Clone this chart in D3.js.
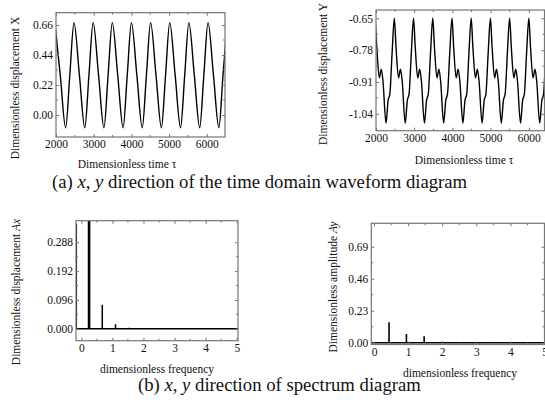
<!DOCTYPE html>
<html lang="en">
<head>
<meta charset="UTF-8">
<title>Time domain waveform and spectrum</title>
<script src="https://d3js.org/d3.v7.min.js"></script>
<style>
  body { margin: 0; background: #fff; }
  text { font-family: "Liberation Serif", "Times New Roman", serif; fill: #111; }
</style>
</head>
<body>
<div id="chart"></div>
<script>
// --- data ---
// (a) x direction waveform: tau, displacement X
const xTau  = [1969, 2113, 2256, 2366, 2477, 2621, 2764, 2874, 2985, 3129, 3272, 3382,
               3493, 3637, 3780, 3890, 4001, 4145, 4288, 4398, 4509, 4653, 4796, 4906,
               5017, 5161, 5304, 5414, 5525, 5669, 5812, 5922, 6033, 6177, 6320, 6430, 6541];
const xDisp = [0.677, 0.292, -0.093, 0.292, 0.677, 0.292, -0.093, 0.292, 0.677, 0.292, -0.093, 0.292,
               0.677, 0.292, -0.093, 0.292, 0.677, 0.292, -0.093, 0.292, 0.677, 0.292, -0.093, 0.292,
               0.677, 0.292, -0.093, 0.292, 0.677, 0.292, -0.093, 0.292, 0.677, 0.292, -0.093, 0.292, 0.677];

// (a) y direction waveform: tau, displacement Y
const yTau  = [1977, 2022, 2087, 2137, 2182, 2262, 2317, 2362, 2422,
               2480, 2525, 2590, 2640, 2685, 2765, 2820, 2865, 2925,
               2983, 3028, 3093, 3143, 3188, 3268, 3323, 3368, 3428,
               3486, 3531, 3596, 3646, 3691, 3771, 3826, 3871, 3931,
               3989, 4034, 4099, 4149, 4194, 4274, 4329, 4374, 4434,
               4492, 4537, 4602, 4652, 4697, 4777, 4832, 4877, 4937,
               4995, 5040, 5105, 5155, 5200, 5280, 5335, 5380, 5440,
               5498, 5543, 5608, 5658, 5703, 5783, 5838, 5883, 5943,
               6001, 6046, 6111, 6161, 6206, 6286, 6341, 6386, 6446, 6504];
const yDisp = [-0.650, -0.770, -0.893, -0.858, -0.905, -1.078, -0.985, -0.960, -0.790,
               -0.650, -0.770, -0.893, -0.858, -0.905, -1.078, -0.985, -0.960, -0.790,
               -0.650, -0.770, -0.893, -0.858, -0.905, -1.078, -0.985, -0.960, -0.790,
               -0.650, -0.770, -0.893, -0.858, -0.905, -1.078, -0.985, -0.960, -0.790,
               -0.650, -0.770, -0.893, -0.858, -0.905, -1.078, -0.985, -0.960, -0.790,
               -0.650, -0.770, -0.893, -0.858, -0.905, -1.078, -0.985, -0.960, -0.790,
               -0.650, -0.770, -0.893, -0.858, -0.905, -1.078, -0.985, -0.960, -0.790,
               -0.650, -0.770, -0.893, -0.858, -0.905, -1.078, -0.985, -0.960, -0.790,
               -0.650, -0.770, -0.893, -0.858, -0.905, -1.078, -0.985, -0.960, -0.790, -0.650];

// (b) spectra: frequency, amplitude
const axFreq = [-0.16, 0.25, 0.675, 1.10, 1.53];
const axAmp  = [0.350, 0.420, 0.080, 0.015, 0.003];
const ayFreq = [0.44, 0.95, 1.47, 2.00, 2.52];
const ayAmp  = [0.147, 0.063, 0.046, 0.006, 0.003];

// tick values
const tauTicks = [2000, 3000, 4000, 5000, 6000];
const xTicks   = [0.00, 0.22, 0.44, 0.66];
const yTicks   = [-1.04, -0.91, -0.78, -0.65];
const fTicks   = [0, 1, 2, 3, 4, 5];
const axTicks  = [0.000, 0.096, 0.192, 0.288];
const ayTicks  = [0.00, 0.23, 0.46, 0.69];

const svg = d3.select("#chart").append("svg")
  .attr("width", 545).attr("height", 406);

const frameColor = "#767676";
let clipId = 0;

// draws one framed panel and returns its scales
function panel(p) {
  const x = d3.scaleLinear().domain(p.xDomain).range([p.x0, p.x1]);
  const y = d3.scaleLinear().domain(p.yDomain).range([p.y1, p.y0]);
  const g = svg.append("g");

  const id = "clip" + (clipId++);
  svg.append("clipPath").attr("id", id).append("rect")
    .attr("x", p.x0).attr("y", p.y0).attr("width", p.x1 - p.x0).attr("height", p.y1 - p.y0);
  const plot = g.append("g").attr("clip-path", "url(#" + id + ")");

  // axes with inward ticks
  const bottom = g.append("g").attr("transform", "translate(0," + p.y1 + ")")
    .call(d3.axisBottom(x).tickValues(p.xTicks).tickSize(-3).tickPadding(3).tickFormat(p.xFormat));
  const left = g.append("g").attr("transform", "translate(" + p.x0 + ",0)")
    .call(d3.axisLeft(y).tickValues(p.yTicks).tickSize(-3).tickPadding(3).tickFormat(p.yFormat));
  const top = g.append("g").attr("transform", "translate(0," + p.y0 + ")")
    .call(d3.axisTop(x).tickValues(p.xTicks).tickSize(-3).tickFormat(""));
  const right = g.append("g").attr("transform", "translate(" + p.x1 + ",0)")
    .call(d3.axisRight(y).tickValues(p.yTicks).tickSize(-3).tickFormat(""));

  [bottom, left, top, right].forEach(a => {
    a.select(".domain").remove();
    a.selectAll("line").attr("stroke", frameColor);
    a.selectAll("text").style("font-size", "11.5px").attr("fill", "#111")
      .style("font-family", '"Liberation Serif", serif');
  });

  // minor ticks halfway between majors
  const mid = (t) => d3.pairs(t).map(d => (d[0] + d[1]) / 2);
  mid(p.xTicks).forEach(v => {
    g.append("line").attr("x1", x(v)).attr("x2", x(v)).attr("y1", p.y1).attr("y2", p.y1 - 2).attr("stroke", frameColor);
    g.append("line").attr("x1", x(v)).attr("x2", x(v)).attr("y1", p.y0).attr("y2", p.y0 + 2).attr("stroke", frameColor);
  });
  mid(p.yTicks).forEach(v => {
    g.append("line").attr("y1", y(v)).attr("y2", y(v)).attr("x1", p.x0).attr("x2", p.x0 + 2).attr("stroke", frameColor);
    g.append("line").attr("y1", y(v)).attr("y2", y(v)).attr("x1", p.x1).attr("x2", p.x1 - 2).attr("stroke", frameColor);
  });

  g.append("rect")
    .attr("x", p.x0).attr("y", p.y0).attr("width", p.x1 - p.x0).attr("height", p.y1 - p.y0)
    .attr("fill", "none").attr("stroke", frameColor).attr("stroke-width", 1.2);

  // axis titles
  g.append("text")
    .attr("transform", "translate(" + p.yLabelX + "," + p.yLabelY + ") rotate(-90)")
    .attr("text-anchor", "middle").style("font-size", "11.5px")
    .call(t => p.yLabel(t));
  g.append("text")
    .attr("x", p.xLabelX).attr("y", p.xLabelY)
    .attr("text-anchor", "middle").style("font-size", "11.5px")
    .text(p.xLabel);

  return { x, y, plot };
}

const plain = s => t => t.text(s);
const withItalic = (a, b) => t => { t.append("tspan").text(a); t.append("tspan").style("font-style", "italic").text(b); };

const fmt2 = d => d.toFixed(2);

// (a) left: X waveform
const pA = panel({
  x0: 56, x1: 225, y0: 12.7, y1: 137,
  xDomain: [2000, 6483], yDomain: [-0.161, 0.750],
  xTicks: tauTicks, yTicks: xTicks, xFormat: d3.format("d"), yFormat: fmt2,
  yLabel: plain("Dimensionless displacement X"), yLabelX: 19, yLabelY: 88,
  xLabel: "Dimensionless time \u03c4", xLabelX: 127, xLabelY: 168
});
pA.plot.append("path")
  .datum(d3.zip(xTau, xDisp))
  .attr("fill", "none").attr("stroke", "#000").attr("stroke-width", 1.4)
  .attr("d", d3.line().x(d => pA.x(d[0])).y(d => pA.y(d[1])).curve(d3.curveMonotoneX));

// (a) right: Y waveform
const pB = panel({
  x0: 376, x1: 544.5, y0: 10, y1: 130.7,
  xDomain: [2000, 6411], yDomain: [-1.109, -0.616],
  xTicks: tauTicks, yTicks: yTicks, xFormat: d3.format("d"), yFormat: fmt2,
  yLabel: plain("Dimensionless displacement Y"), yLabelX: 327, yLabelY: 74,
  xLabel: "Dimensionless time \u03c4", xLabelX: 464, xLabelY: 164
});
pB.plot.append("path")
  .datum(d3.zip(yTau, yDisp))
  .attr("fill", "none").attr("stroke", "#000").attr("stroke-width", 1.4)
  .attr("d", d3.line().x(d => pB.x(d[0])).y(d => pB.y(d[1])).curve(d3.curveMonotoneX));

// (b) left: Ax spectrum
const pC = panel({
  x0: 76, x1: 238, y0: 220.7, y1: 340.7,
  xDomain: [-0.17, 5.04], yDomain: [-0.04, 0.36],
  xTicks: fTicks, yTicks: axTicks, xFormat: d3.format("d"), yFormat: d => d.toFixed(3),
  yLabel: withItalic("Dimensionless displacement ", "Ax"), yLabelX: 20, yLabelY: 292,
  xLabel: "dimensionless frequency", xLabelX: 157, xLabelY: 373
});
pC.plot.append("line")
  .attr("x1", pC.x(-0.17)).attr("x2", pC.x(5.04)).attr("y1", pC.y(0)).attr("y2", pC.y(0))
  .attr("stroke", "#000").attr("stroke-width", 1.5);
pC.plot.selectAll(".bar").data(d3.zip(axFreq, axAmp)).enter().append("line")
  .attr("x1", d => pC.x(d[0])).attr("x2", d => pC.x(d[0]))
  .attr("y1", pC.y(0)).attr("y2", d => pC.y(d[1]))
  .attr("stroke", "#000").attr("stroke-width", (d, i) => i === 1 ? 2.6 : 1.5);

// (b) right: Ay spectrum
const pD = panel({
  x0: 371.3, x1: 544.5, y0: 223.3, y1: 344.5,
  xDomain: [-0.08, 5.0], yDomain: [-0.013, 0.858],
  xTicks: fTicks, yTicks: ayTicks, xFormat: d3.format("d"), yFormat: fmt2,
  yLabel: withItalic("Dimensionless amplitude ", "Ay"), yLabelX: 337, yLabelY: 287,
  xLabel: "dimensionless frequency", xLabelX: 460, xLabelY: 377
});
pD.plot.append("line")
  .attr("x1", pD.x(-0.08)).attr("x2", pD.x(5.0)).attr("y1", pD.y(0)).attr("y2", pD.y(0))
  .attr("stroke", "#000").attr("stroke-width", 1.5);
pD.plot.selectAll(".bar").data(d3.zip(ayFreq, ayAmp)).enter().append("line")
  .attr("x1", d => pD.x(d[0])).attr("x2", d => pD.x(d[0]))
  .attr("y1", pD.y(0)).attr("y2", d => pD.y(d[1]))
  .attr("stroke", "#000").attr("stroke-width", 1.6);

// captions
function caption(xPos, yPos, letter, rest) {
  const t = svg.append("text").attr("x", xPos).attr("y", yPos).style("font-size", "18.7px");
  t.append("tspan").text("(" + letter + ") ");
  t.append("tspan").style("font-style", "italic").text("x");
  t.append("tspan").text(", ");
  t.append("tspan").style("font-style", "italic").text("y");
  t.append("tspan").text(" " + rest);
}
caption(52, 188, "a", "direction of the time domain waveform diagram");
caption(138, 391, "b", "direction of spectrum diagram");
</script>
</body>
</html>
